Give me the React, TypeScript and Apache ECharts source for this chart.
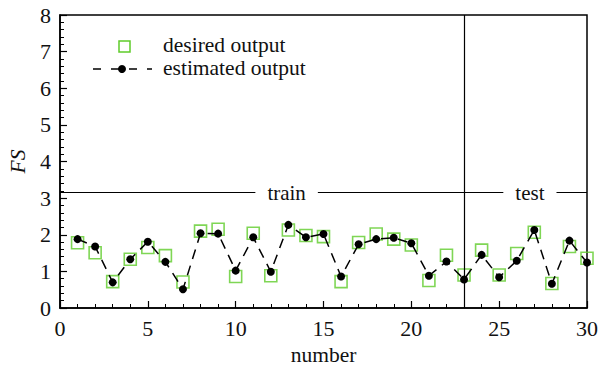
import React, { useEffect, useRef } from "react";
import * as echarts from "echarts";

const numbers = [1,2,3,4,5,6,7,8,9,10,11,12,13,14,15,16,17,18,19,20,21,22,23,24,25,26,27,28,29,30];
const desiredOutput = [1.78,1.51,0.72,1.33,1.65,1.43,0.71,2.10,2.15,0.86,2.04,0.88,2.13,1.98,1.95,0.72,1.79,2.02,1.88,1.72,0.75,1.44,0.90,1.58,0.90,1.49,2.07,0.67,1.68,1.36];
const estimatedOutput = [1.88,1.68,0.70,1.33,1.81,1.26,0.51,2.04,2.03,1.02,1.93,0.99,2.27,1.93,2.02,0.86,1.74,1.88,1.92,1.77,0.88,1.27,0.78,1.45,0.84,1.29,2.13,0.66,1.84,1.24];
const splitY = 3.15;
const splitX = 23;
const sectionLabels = [
  { name: "train", x: 12.9 },
  { name: "test", x: 26.75 },
];

const FONT = "Liberation Serif";
const GREEN = "#5fcc2a";

export default function App() {
  const ref = useRef<HTMLDivElement>(null);
  useEffect(() => {
    if (!ref.current) return;
    document.body.style.margin = "0";
    const chart = echarts.init(ref.current, null, { renderer: "svg" });
    const axisCommon = {
      axisLine: { lineStyle: { color: "#000", width: 1.5 } },
      axisTick: { inside: true, length: 7, lineStyle: { color: "#000", width: 1.2 } },
      minorTick: { show: true, splitNumber: 5, length: 4, lineStyle: { color: "#000", width: 1 } },
      splitLine: { show: false },
      axisLabel: { color: "#111", fontSize: 22, fontFamily: FONT },
      nameTextStyle: { color: "#111", fontSize: 21.5, fontFamily: FONT },
    };
    chart.setOption({
      animation: false,
      backgroundColor: "#fff",
      grid: {
        left: 60,
        right: 17,
        top: 15,
        bottom: 59,
        show: true,
        borderColor: "#000",
        borderWidth: 1.5,
        backgroundColor: "transparent",
        outerBoundsMode: "none",
        containLabel: false,
      },
      xAxis: {
        type: "value",
        min: 0,
        max: 30,
        interval: 5,
        name: "number",
        nameLocation: "middle",
        nameGap: 35,
        ...axisCommon,
        axisLabel: { ...axisCommon.axisLabel, margin: 9 },
      },
      yAxis: {
        type: "value",
        min: 0,
        max: 8,
        interval: 1,
        name: "FS",
        nameLocation: "middle",
        nameGap: 29,
        nameRotate: 90,
        ...axisCommon,
        axisLabel: { ...axisCommon.axisLabel, margin: 9 },
        nameTextStyle: { ...axisCommon.nameTextStyle, fontStyle: "italic" },
      },
      series: [
        {
          name: "desired output",
          type: "scatter",
          symbol: "rect",
          symbolSize: 12,
          itemStyle: { color: "rgba(255,255,255,0)", borderColor: GREEN, borderWidth: 1.6 },
          data: numbers.map((n, i) => [n, desiredOutput[i]]),
          z: 3,
          markLine: {
            silent: true,
            symbol: "none",
            label: { show: false },
            lineStyle: { color: "#000", width: 1.2, type: "solid" },
            data: [
              [{ coord: [0, splitY] }, { coord: [30, splitY] }],
              [{ coord: [splitX, 0] }, { coord: [splitX, 8] }],
            ],
          },
          markPoint: {
            silent: true,
            symbol: "rect",
            symbolSize: 1,
            itemStyle: { color: "rgba(0,0,0,0)" },
            label: {
              show: true,
              position: "inside",
              color: "#111",
              fontSize: 21,
              fontFamily: FONT,
              backgroundColor: "#fff",
              padding: [0, 12, 0, 12],
              formatter: (p: any) => p.name,
            },
            data: sectionLabels.map((s) => ({ name: s.name, coord: [s.x, splitY] })),
          },
        },
        {
          name: "estimated output",
          type: "line",
          symbol: "circle",
          symbolSize: 8,
          itemStyle: { color: "#000" },
          lineStyle: { color: "#000", width: 1.5, type: [10, 7] },
          data: numbers.map((n, i) => [n, estimatedOutput[i]]),
          z: 4,
        },
      ],
      graphic: [
        {
          type: "rect",
          shape: { x: 119, y: 41, width: 11, height: 11 },
          style: { fill: "none", stroke: GREEN, lineWidth: 1.5 },
        },
        {
          type: "text",
          x: 163,
          y: 45,
          style: { text: "desired output", fill: "#111", font: `21.5px "${FONT}"`, verticalAlign: "middle" },
        },
        {
          type: "line",
          shape: { x1: 93, y1: 69, x2: 152, y2: 69 },
          style: { stroke: "#000", lineWidth: 1.5, lineDash: [8, 10] },
        },
        {
          type: "circle",
          shape: { cx: 122, cy: 69, r: 4 },
          style: { fill: "#000" },
        },
        {
          type: "text",
          x: 163,
          y: 68,
          style: { text: "estimated output", fill: "#111", font: `21.5px "${FONT}"`, verticalAlign: "middle" },
        },
      ],
    });
    return () => chart.dispose();
  }, []);
  return <div ref={ref} style={{ width: 604, height: 367 }} />;
}
